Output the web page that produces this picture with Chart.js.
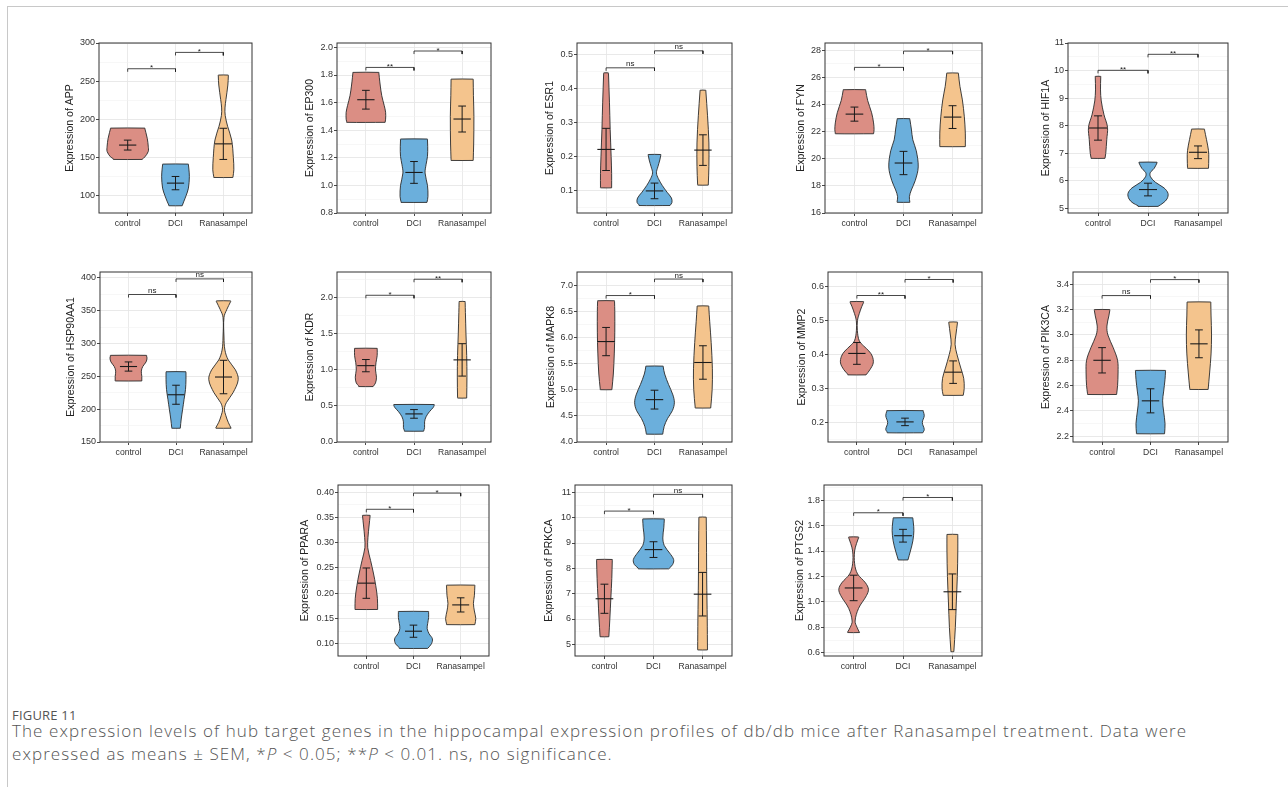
<!DOCTYPE html>
<html>
<head>
<meta charset="utf-8">
<script src="https://cdn.jsdelivr.net/npm/chart.js@4.4.1/dist/chart.umd.min.js"></script>
<style>
  html, body { margin: 0; padding: 0; background: #fff; }
  #page { position: relative; width: 1288px; height: 787px; overflow: hidden; }
  #frame { position: absolute; left: 7px; top: 6px; right: -2px; bottom: -2px; border-top: 1px solid #c8c8c8; border-left: 1px solid #c8c8c8; }
  canvas { position: absolute; }
  #figno { position: absolute; left: 12px; top: 709px; font: 13px/1 "Open Sans", sans-serif; letter-spacing: 0.2px; color: #555; }
  #caption { position: absolute; left: 12px; top: 720px; font: 300 17px/22.5px "Open Sans", sans-serif; letter-spacing: 1.08px; color: #555; white-space: nowrap; }
</style>
</head>
<body>
<div id="page">
  <div id="frame"></div>
  <div id="figno">FIGURE 11</div>
  <div id="caption">The expression levels of hub target genes in the hippocampal expression profiles of db/db mice after Ranasampel treatment. Data were<br>expressed as means &plusmn; SEM, *<i>P</i> &lt; 0.05; **<i>P</i> &lt; 0.01. ns, no significance.</div>
</div>
<script>
const groups = ['control', 'DCI', 'Ranasampel'];
const genes = ['APP', 'EP300', 'ESR1', 'FYN', 'HIF1A', 'HSP90AA1', 'KDR', 'MAPK8', 'MMP2', 'PIK3CA', 'PPARA', 'PRKCA', 'PTGS2'];

// group means and SEM, order: control, DCI, Ranasampel
const means = [
  [166.4, 116.6, 168], [1.621, 1.094, 1.481], [0.221, 0.099, 0.219], [23.30, 19.69, 23.08],
  [7.92, 5.69, 7.04], [265, 222, 249], [1.06, 0.39, 1.14], [5.92, 4.81, 5.52],
  [0.403, 0.202, 0.348], [2.80, 2.48, 2.93], [0.22, 0.125, 0.177], [6.8, 8.74, 6.98], [1.11, 1.52, 1.08]
];
const sems = [
  [6.5, 8.7, 20.4], [0.068, 0.079, 0.094], [0.062, 0.023, 0.045], [0.52, 0.86, 0.84],
  [0.44, 0.23, 0.23], [7, 14.5, 25.5], [0.085, 0.06, 0.225], [0.27, 0.18, 0.32],
  [0.032, 0.011, 0.033], [0.10, 0.095, 0.11], [0.03, 0.012, 0.014], [0.575, 0.31, 0.86], [0.10, 0.05, 0.14]
];

// y axis extent and tick labels
const yRange = [
  [77.5, 300], [0.8, 2.032], [0.034, 0.534], [16, 28.55], [4.84, 11], [150, 409], [0, 2.36],
  [4, 7.25], [0.143, 0.642], [2.155, 3.497], [0.076, 0.414], [4.54, 11.29], [0.576, 1.918]
];
const yTickLabels = [
  ['100', '150', '200', '250', '300'],
  ['0.8', '1.0', '1.2', '1.4', '1.6', '1.8', '2.0'],
  ['0.1', '0.2', '0.3', '0.4', '0.5'],
  ['16', '18', '20', '22', '24', '26', '28'],
  ['5', '6', '7', '8', '9', '10', '11'],
  ['150', '200', '250', '300', '350', '400'],
  ['0.0', '0.5', '1.0', '1.5', '2.0'],
  ['4.0', '4.5', '5.0', '5.5', '6.0', '6.5', '7.0'],
  ['0.2', '0.3', '0.4', '0.5', '0.6'],
  ['2.2', '2.4', '2.6', '2.8', '3.0', '3.2', '3.4'],
  ['0.10', '0.15', '0.20', '0.25', '0.30', '0.35', '0.40'],
  ['5', '6', '7', '8', '9', '10', '11'],
  ['0.6', '0.8', '1.0', '1.2', '1.4', '1.6', '1.8']
];

// significance brackets: control vs DCI, DCI vs Ranasampel
const sigY = [
  [266.3, 287.7], [1.855, 1.974], [0.461, 0.511], [26.75, 27.95], [10.01, 10.59], [374.7, 398.5], [2.037, 2.26],
  [6.80, 7.115], [0.573, 0.62], [3.311, 3.437], [0.366, 0.398], [10.26, 10.92], [1.70, 1.82]
];
const sigText = [
  ['*', '*'], ['**', '*'], ['ns', 'ns'], ['*', '*'], ['**', '**'], ['ns', 'ns'], ['*', '**'],
  ['*', 'ns'], ['**', '*'], ['ns', '*'], ['*', '*'], ['*', 'ns'], ['*', '*']
];

// violin outlines: [expression, density half-width], bottom to top
const controlShapes = [
  [[147.6, 0.30], [151, 0.36], [158, 0.43], [165, 0.43], [175, 0.41], [183, 0.38], [188.6, 0.36]],
  [[1.457, 0.40], [1.48, 0.41], [1.53, 0.41], [1.58, 0.38], [1.65, 0.33], [1.72, 0.30], [1.78, 0.28], [1.819, 0.27]],
  [[0.108, 0.115], [0.15, 0.115], [0.2, 0.105], [0.28, 0.085], [0.36, 0.07], [0.446, 0.05]],
  [[21.85, 0.39], [22.15, 0.40], [22.65, 0.39], [23.4, 0.35], [24.3, 0.27], [25.1, 0.23]],
  [[6.82, 0.14], [7.0, 0.155], [7.5, 0.175], [7.95, 0.19], [8.4, 0.12], [8.9, 0.065], [9.3, 0.05], [9.79, 0.055]],
  [[243, 0.28], [250, 0.28], [258, 0.27], [265, 0.30], [272, 0.37], [278, 0.39], [282, 0.38]],
  [[0.77, 0.15], [0.82, 0.2], [0.9, 0.22], [1.0, 0.2], [1.1, 0.21], [1.2, 0.235], [1.3, 0.235]],
  [[5.0, 0.12], [5.3, 0.15], [5.7, 0.17], [6.1, 0.18], [6.5, 0.18], [6.7, 0.175]],
  [[0.34, 0.19], [0.355, 0.27], [0.375, 0.34], [0.395, 0.32], [0.41, 0.25], [0.425, 0.14], [0.44, 0.05], [0.47, 0.01], [0.5, 0.012], [0.52, 0.05], [0.54, 0.1], [0.555, 0.14]],
  [[2.53, 0.3], [2.6, 0.32], [2.7, 0.33], [2.8, 0.32], [2.9, 0.23], [3.0, 0.12], [3.07, 0.1], [3.15, 0.14], [3.2, 0.16]],
  [[0.168, 0.24], [0.19, 0.235], [0.215, 0.2], [0.24, 0.15], [0.265, 0.09], [0.29, 0.03], [0.31, 0.035], [0.335, 0.06], [0.354, 0.08]],
  [[5.3, 0.09], [6.0, 0.11], [6.8, 0.13], [7.6, 0.15], [8.35, 0.16]],
  [[0.76, 0.12], [0.8, 0.07], [0.85, 0.03], [0.95, 0.1], [1.05, 0.26], [1.1, 0.3], [1.15, 0.24], [1.22, 0.08], [1.3, 0.02], [1.4, 0.02], [1.46, 0.06], [1.51, 0.1]]
];
const dciShapes = [
  [[87, 0.14], [92, 0.17], [100, 0.22], [110, 0.27], [125, 0.29], [135, 0.28], [141.5, 0.27]],
  [[0.877, 0.27], [0.92, 0.29], [1.0, 0.28], [1.09, 0.23], [1.15, 0.25], [1.21, 0.28], [1.28, 0.285], [1.336, 0.28]],
  [[0.056, 0.32], [0.065, 0.36], [0.078, 0.35], [0.095, 0.26], [0.115, 0.16], [0.135, 0.08], [0.152, 0.04], [0.17, 0.07], [0.19, 0.11], [0.206, 0.13]],
  [[16.79, 0.13], [17.2, 0.12], [17.7, 0.16], [18.4, 0.24], [19.4, 0.30], [20.6, 0.26], [21.4, 0.19], [22.2, 0.16], [22.96, 0.13]],
  [[5.08, 0.20], [5.2, 0.30], [5.35, 0.38], [5.55, 0.40], [5.75, 0.32], [5.95, 0.15], [6.15, 0.05], [6.3, 0.045], [6.45, 0.12], [6.68, 0.18]],
  [[171, 0.09], [185, 0.11], [200, 0.14], [215, 0.17], [230, 0.2], [245, 0.21], [257, 0.21]],
  [[0.15, 0.2], [0.2, 0.22], [0.28, 0.22], [0.35, 0.25], [0.42, 0.32], [0.48, 0.4], [0.52, 0.42]],
  [[4.15, 0.17], [4.3, 0.2], [4.45, 0.27], [4.6, 0.37], [4.75, 0.41], [4.9, 0.38], [5.1, 0.29], [5.3, 0.21], [5.45, 0.18]],
  [[0.17, 0.37], [0.18, 0.4], [0.2, 0.36], [0.22, 0.4], [0.235, 0.38]],
  [[2.22, 0.29], [2.3, 0.3], [2.4, 0.27], [2.48, 0.25], [2.55, 0.27], [2.65, 0.3], [2.72, 0.31]],
  [[0.091, 0.3], [0.1, 0.38], [0.11, 0.4], [0.12, 0.33], [0.13, 0.29], [0.14, 0.3], [0.152, 0.32], [0.164, 0.32]],
  [[7.98, 0.31], [8.15, 0.39], [8.35, 0.41], [8.6, 0.33], [8.9, 0.22], [9.2, 0.19], [9.6, 0.21], [9.95, 0.22]],
  [[1.33, 0.1], [1.4, 0.15], [1.48, 0.2], [1.56, 0.22], [1.62, 0.21], [1.66, 0.2]]
];
const ranaShapes = [
  [[124, 0.20], [134, 0.22], [150, 0.21], [173, 0.175], [191, 0.09], [205, 0.04], [215, 0.035], [226, 0.055], [245, 0.095], [258, 0.105]],
  [[1.181, 0.23], [1.3, 0.24], [1.5, 0.245], [1.65, 0.235], [1.77, 0.23]],
  [[0.116, 0.11], [0.17, 0.123], [0.24, 0.123], [0.32, 0.095], [0.395, 0.06]],
  [[20.9, 0.26], [21.9, 0.26], [23.1, 0.24], [24.35, 0.20], [25.35, 0.15], [26.33, 0.12]],
  [[6.46, 0.21], [6.8, 0.215], [7.1, 0.21], [7.5, 0.17], [7.88, 0.13]],
  [[171, 0.16], [180, 0.1], [190, 0.05], [200, 0.02], [210, 0.06], [225, 0.2], [245, 0.31], [260, 0.25], [275, 0.1], [290, 0.03], [310, 0.01], [340, 0.01], [352, 0.07], [365, 0.15]],
  [[0.61, 0.095], [0.9, 0.1], [1.2, 0.095], [1.5, 0.08], [1.8, 0.068], [1.95, 0.063]],
  [[4.65, 0.16], [5.0, 0.19], [5.4, 0.195], [5.9, 0.17], [6.3, 0.14], [6.6, 0.12]],
  [[0.28, 0.21], [0.3, 0.23], [0.33, 0.22], [0.36, 0.16], [0.4, 0.08], [0.43, 0.04], [0.46, 0.06], [0.495, 0.09]],
  [[2.57, 0.19], [2.7, 0.22], [2.85, 0.25], [3.0, 0.26], [3.15, 0.25], [3.26, 0.245]],
  [[0.138, 0.3], [0.15, 0.32], [0.165, 0.29], [0.18, 0.27], [0.195, 0.29], [0.216, 0.3]],
  [[4.78, 0.1], [6, 0.095], [7.5, 0.085], [9, 0.08], [10.02, 0.075]],
  [[0.61, 0.03], [0.8, 0.06], [1.0, 0.08], [1.2, 0.1], [1.4, 0.11], [1.53, 0.11]]
];

// plot boxes on the page: left, top, right, bottom, gap from plot to y title centre
const panels = [
  [99, 43, 252, 213, 29], [337, 43, 491, 213, 27], [577, 43, 732, 213, 27], [825, 43, 982, 213, 24], [1068, 43, 1228, 213, 22],
  [100, 272, 252, 442, 29], [337, 272, 491, 442, 27], [577, 272, 732, 442, 26], [828, 272, 982, 442, 26], [1073, 272, 1228, 442, 27],
  [338, 485, 489, 656, 33], [575, 485, 732, 656, 26], [824, 485, 982, 656, 24]
];

const FONT = '"Liberation Sans", Arial, sans-serif';
const FILLS = ['#DB8E84', '#6BAFDC', '#F4C48D'];
const OUTLINE = '#2a2a2a';
const PAD_TOP = 14, PAD_RIGHT = 6, X_AXIS_H = 26, TITLE_HALF = 6;
const MEAN_HALF = 0.18, CAP_HALF = 0.08;

const page = document.getElementById('page');

function violinPoints(shape, c, d) {
  const n = shape.length;
  const [y0, w0] = shape[0];
  const [yn, wn] = shape[n - 1];
  const pts = shape.map(([y, w]) => ({x: c + w, y}));
  // extra points next to the corners keep the trimmed ends flat
  pts.splice(n - 1, 0, {x: c + wn, y: yn - d});
  pts.push({x: c - wn, y: yn}, {x: c - wn, y: yn - d});
  for (let i = n - 2; i >= 1; i--) pts.push({x: c - shape[i][1], y: shape[i][0]});
  pts.push({x: c - w0, y: y0 + d}, {x: c - w0, y: y0}, {x: c + w0, y: y0});
  return pts;
}

// error bars and brackets sit above the violins (lower order draws on top)
function seg(points, width) {
  return {data: points, borderColor: '#1a1a1a', borderWidth: width, pointRadius: 0, fill: false, tension: 0, order: 0};
}

function yGrid(g) {
  const [lo, hi] = yRange[g];
  const major = yTickLabels[g].map(t => ({value: parseFloat(t), txt: t}));
  const step = major[1].value - major[0].value;
  const minor = [];
  major.forEach((t, i) => {
    const v = t.value - step / 2;
    if (v >= lo) minor.push({value: v, txt: '', minor: true});
    if (i === major.length - 1 && t.value + step / 2 <= hi) minor.push({value: t.value + step / 2, txt: '', minor: true});
  });
  return major.concat(minor).sort((a, b) => a.value - b.value);
}

const framePlugin = {
  id: 'frame',
  afterDraw(chart) {
    const {ctx, chartArea: a} = chart;
    ctx.save();
    ctx.strokeStyle = '#333';
    ctx.lineWidth = 1;
    ctx.strokeRect(a.left, a.top, a.right - a.left, a.bottom - a.top);
    ctx.restore();
  }
};

function sigPlugin(items) {
  return {
    id: 'sig',
    afterDatasetsDraw(chart) {
      const {ctx, scales: {x, y}} = chart;
      ctx.save();
      ctx.font = '8px ' + FONT;
      ctx.fillStyle = '#222';
      ctx.textAlign = 'center';
      ctx.textBaseline = 'alphabetic';
      items.forEach(([xv, yv, txt]) => {
        // asterisks sit high in the em box, so their baseline goes lower
        const lift = txt === 'ns' ? 1.5 : -1.5;
        ctx.fillText(txt, x.getPixelForValue(xv), y.getPixelForValue(yv) - lift);
      });
      ctx.restore();
    }
  };
}

genes.forEach((gene, g) => {
  const [left, top, right, bottom, titleGap] = panels[g];
  const axisW = titleGap + TITLE_HALF;
  const [ymin, ymax] = yRange[g];
  const span = ymax - ymin;

  const canvas = document.createElement('canvas');
  canvas.width = axisW + right - left + PAD_RIGHT;
  canvas.height = PAD_TOP + bottom - top + X_AXIS_H;
  canvas.style.left = (left - axisW) + 'px';
  canvas.style.top = (top - PAD_TOP) + 'px';
  page.appendChild(canvas);

  const datasets = [];
  [controlShapes[g], dciShapes[g], ranaShapes[g]].forEach((shape, k) => {
    datasets.push({
      data: violinPoints(shape, k + 1, span * 0.004),
      borderColor: OUTLINE, borderWidth: 0.9, backgroundColor: FILLS[k],
      fill: 'shape', tension: 0.35, pointRadius: 0, order: 1
    });
  });
  means[g].forEach((m, k) => {
    const c = k + 1, s = sems[g][k];
    datasets.push(seg([{x: c - MEAN_HALF, y: m}, {x: c + MEAN_HALF, y: m}], 1.1));
    datasets.push(seg([{x: c, y: m - s}, {x: c, y: m + s}], 1));
    datasets.push(seg([{x: c - CAP_HALF, y: m + s}, {x: c + CAP_HALF, y: m + s}], 1));
    datasets.push(seg([{x: c - CAP_HALF, y: m - s}, {x: c + CAP_HALF, y: m - s}], 1));
  });
  const tip = span * 0.018;
  const labels = [];
  sigY[g].forEach((b, i) => {
    datasets.push(seg([{x: i + 1, y: b - tip}, {x: i + 1, y: b}, {x: i + 2, y: b}, {x: i + 2, y: b - tip}], 0.8));
    labels.push([i + 1.5, b, sigText[g][i]]);
  });

  new Chart(canvas, {
    type: 'line',
    data: {datasets},
    options: {
      responsive: false,
      animation: false,
      events: [],
      layout: {padding: {top: PAD_TOP, right: PAD_RIGHT, left: 0, bottom: 0}},
      plugins: {legend: {display: false}, tooltip: {enabled: false}},
      scales: {
        x: {
          type: 'linear', min: 0.4, max: 3.6,
          afterBuildTicks: s => { s.ticks = [1, 2, 3].map(v => ({value: v})); },
          afterFit: s => { s.height = X_AXIS_H; },
          ticks: {autoSkip: false, maxRotation: 0, padding: 2, color: '#333', font: {family: FONT, size: 8.6},
                  callback: (v, i) => groups[i]},
          grid: {color: '#e8e8e8', lineWidth: 0.9, tickColor: '#333', tickLength: 3},
          border: {display: false}
        },
        y: {
          type: 'linear', min: ymin, max: ymax,
          afterBuildTicks: s => { s.ticks = yGrid(g); },
          afterFit: s => { s.width = axisW; },
          ticks: {autoSkip: false, padding: 1, color: '#333', font: {family: FONT, size: 9},
                  callback: (v, i, ticks) => ticks[i].txt},
          grid: {
            color: c => (c.tick && c.tick.minor ? '#f2f2f2' : '#e6e6e6'),
            lineWidth: c => (c.tick && c.tick.minor ? 0.6 : 0.9),
            tickColor: c => (c.tick && c.tick.minor ? 'rgba(0,0,0,0)' : '#333'),
            tickLength: 3
          },
          border: {display: false},
          title: {display: true, text: 'Expression of ' + gene, color: '#222', padding: 0, font: {family: FONT, size: 10.5}}
        }
      }
    },
    plugins: [framePlugin, sigPlugin(labels)]
  });
});
</script>
</body>
</html>
